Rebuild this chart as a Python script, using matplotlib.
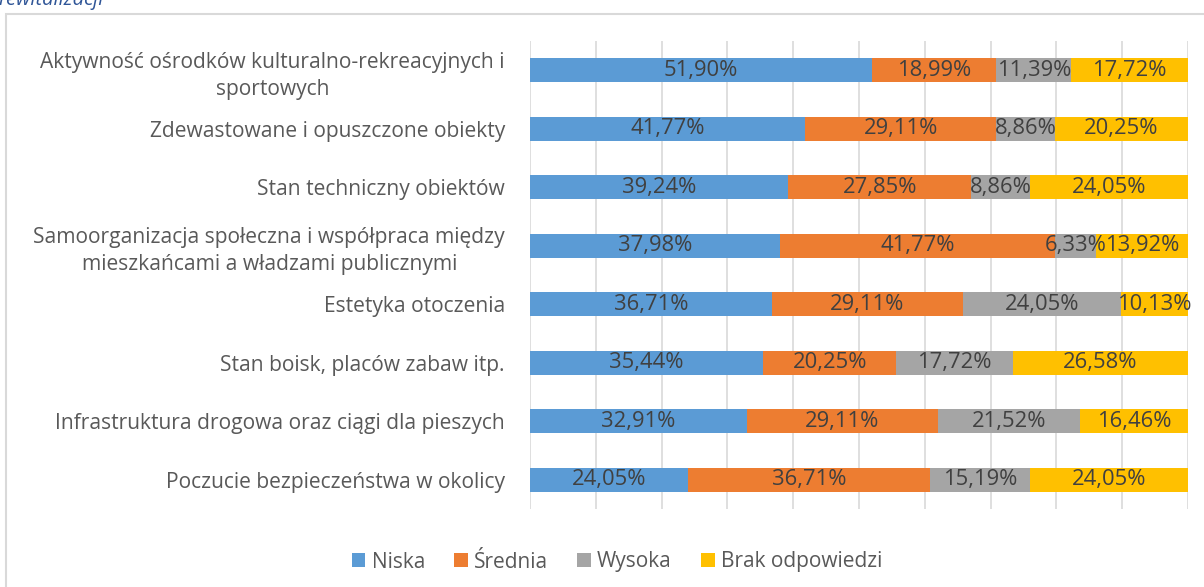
import matplotlib.pyplot as plt
import numpy as np
from matplotlib.patches import Rectangle

plt.rcParams['font.family'] = ['Open Sans', 'DejaVu Sans']

categories = [
    "Aktywność ośrodków kulturalno-rekreacyjnych i\nsportowych",
    "Zdewastowane i opuszczone obiekty",
    "Stan techniczny obiektów",
    "Samoorganizacja społeczna i współpraca między\nmieszkańcami a władzami publicznymi",
    "Estetyka otoczenia",
    "Stan boisk, placów zabaw itp.",
    "Infrastruktura drogowa oraz ciągi dla pieszych",
    "Poczucie bezpieczeństwa w okolicy",
]
niska = [51.90, 41.77, 39.24, 37.98, 36.71, 35.44, 32.91, 24.05]
srednia = [18.99, 29.11, 27.85, 41.77, 29.11, 20.25, 29.11, 36.71]
wysoka = [11.39, 8.86, 8.86, 6.33, 24.05, 17.72, 21.52, 15.19]
brak = [17.72, 20.25, 24.05, 13.92, 10.13, 26.58, 16.46, 24.05]

series_names = ["Niska", "Średnia", "Wysoka", "Brak odpowiedzi"]
colors = ["#5B9BD5", "#ED7D31", "#A5A5A5", "#FFC000"]

fig = plt.figure(figsize=(12.04, 5.87), dpi=100)
ax = fig.add_axes([530 / 1204, 1 - 509 / 587, 658 / 1204, 468 / 587])

# light frame of the chart area (cut off on the right / bottom)
fig.patches.append(Rectangle((6 / 1204, -0.1), 1.2, 1 - 14 / 587 + 0.1,
                             transform=fig.transFigure, fill=False,
                             edgecolor="#D9D9D9", linewidth=1.5))

# clipped caption from the page above the chart
fig.text(-0.001, 1 - 5 / 587, "rewitalizacji", ha="left", va="baseline",
         fontsize=14.5, style="italic", color="#2F5597")

y = np.arange(len(categories))
left = np.zeros(len(categories))
for name, vals, c in zip(series_names, [niska, srednia, wysoka, brak], colors):
    vals = np.array(vals)
    bars = ax.barh(y, vals, left=left, height=0.41, color=c, label=name, zorder=2)
    for b, v in zip(bars, vals):
        ax.text(b.get_x() + b.get_width() / 2, b.get_y() + b.get_height() / 2,
                f"{v:.2f}%".replace(".", ","), ha="center", va="center",
                fontsize=15.8, color="#404040", zorder=3)
    left += vals

ax.set_xlim(0, 100)
ax.set_ylim(len(categories) - 0.5, -0.5)
ax.set_xticks(np.arange(0, 101, 10))
ax.xaxis.grid(True, color="#D9D9D9", linewidth=1.2, zorder=0)
ax.tick_params(axis="x", length=0, labelbottom=False)
ax.tick_params(axis="y", length=0, pad=18)
ax.set_yticks(y)
ax.set_yticklabels(categories, fontsize=15.1, color="#595959", linespacing=1.38)
for t in ax.get_yticklabels():
    t.set_multialignment("center")
for s in ax.spines.values():
    s.set_visible(False)

fig.legend(loc="center", bbox_to_anchor=(617 / 1204, 1 - 562 / 587), ncol=4,
           frameon=False, fontsize=15, handlelength=0.65, handleheight=0.65,
           handletextpad=0.3, columnspacing=1.4, labelcolor="#595959")

fig.savefig("out.png", dpi=100)
